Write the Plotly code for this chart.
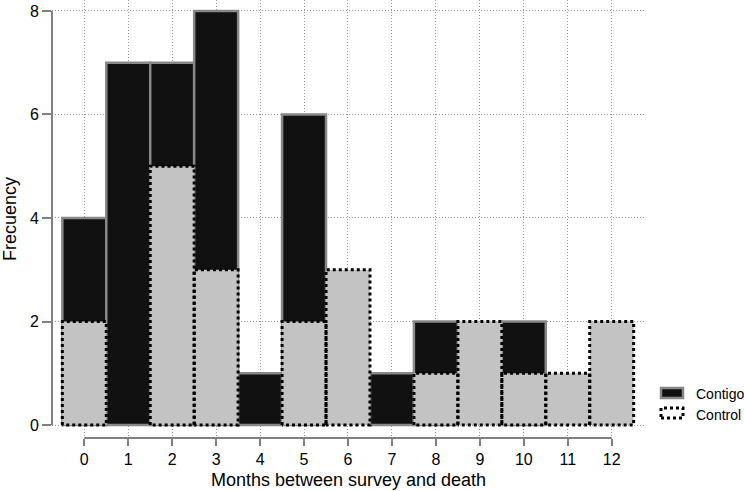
import plotly.graph_objects as go

# Data
months = list(range(13))
contigo = [4, 7, 7, 8, 1, 6, 0, 1, 2, 0, 2, 0, 0]
control = [2, 0, 5, 3, 0, 2, 3, 0, 1, 2, 1, 1, 2]
y_ticks = [0, 2, 4, 6, 8]
x_title = "Months between survey and death"
y_title = "Frecuency"
series_names = ["Contigo", "Control"]

FONT = "Liberation Sans, Arial, sans-serif"
AXIS_GRAY = "#808080"

fig = go.Figure()

# Contigo bars (dark, gray outline)
fig.add_trace(go.Bar(
    x=months, y=[v if v else None for v in contigo], width=1,
    marker=dict(color="#111111", line=dict(color="#888888", width=2.5)),
    name=series_names[0], showlegend=False,
))

# Control bars fill (light gray)
fig.add_trace(go.Bar(
    x=months, y=[v if v else None for v in control], width=1,
    marker=dict(color="#c3c3c3", line=dict(width=0)),
    name=series_names[1], showlegend=False,
))

# Control dotted outlines, derived from the data
ox, oy = [], []
for m, v in zip(months, control):
    if v:
        ox += [m - 0.5, m - 0.5, m + 0.5, m + 0.5, m - 0.5, None]
        oy += [0, v, v, 0, 0, None]
fig.add_trace(go.Scatter(
    x=ox, y=oy, mode="lines",
    line=dict(color="black", width=3, dash="dot"),
    showlegend=False, hoverinfo="skip",
))

L, R, T, B = 52, 99, 0, 53
W, H = 744, 491
pw, ph = W - L - R, H - T - B

def px_x(p):
    return (p - L) / pw

def px_y(p):
    return (H - B - p) / ph

shapes = [
    # y axis line (0..8)
    dict(type="line", xref="paper", yref="y", x0=0, x1=0, y0=y_ticks[0], y1=y_ticks[-1],
         line=dict(color=AXIS_GRAY, width=2)),
    # x axis line (0..12)
    dict(type="line", xref="x", yref="paper", x0=months[0], x1=months[-1], y0=0, y1=0,
         line=dict(color=AXIS_GRAY, width=2)),
    # legend boxes
    dict(type="rect", xref="paper", yref="paper",
         x0=px_x(661), x1=px_x(683), y0=px_y(398), y1=px_y(388),
         fillcolor="#111111", line=dict(color="#888888", width=2.5)),
    dict(type="rect", xref="paper", yref="paper",
         x0=px_x(661), x1=px_x(683), y0=px_y(418), y1=px_y(408),
         fillcolor="white", line=dict(color="black", width=3, dash="dot")),
]

annotations = [
    dict(text=series_names[0], xref="paper", yref="paper", x=px_x(694), y=px_y(394),
         xanchor="left", yanchor="middle", showarrow=False,
         font=dict(family=FONT, size=14, color="black")),
    dict(text=series_names[1], xref="paper", yref="paper", x=px_x(694), y=px_y(415),
         xanchor="left", yanchor="middle", showarrow=False,
         font=dict(family=FONT, size=14, color="black")),
]

fig.update_layout(
    width=W, height=H,
    margin=dict(l=L, r=R, t=T, b=B, pad=0, autoexpand=False),
    barmode="overlay",
    plot_bgcolor="white", paper_bgcolor="white",
    font=dict(family=FONT, size=16, color="black"),
    shapes=shapes, annotations=annotations,
    showlegend=False,
)

fig.update_xaxes(
    range=[-0.735, 12.758], automargin=False,
    tickmode="array", tickvals=months, ticktext=[str(m) for m in months],
    ticks="outside", ticklen=7, tickwidth=2, tickcolor=AXIS_GRAY,
    showgrid=True, gridcolor="#999999", gridwidth=1, griddash="1px,2px",
    zeroline=False, showline=False,
    tickfont=dict(family=FONT, size=16),
    title=dict(text=x_title, font=dict(family=FONT, size=18), standoff=6),
)

fig.update_yaxes(
    range=[-0.251, 8.212], automargin=False,
    tickmode="array", tickvals=y_ticks, ticktext=[str(v) for v in y_ticks],
    ticks="outside", ticklen=9, tickwidth=2, tickcolor=AXIS_GRAY,
    showgrid=True, gridcolor="#999999", gridwidth=1, griddash="1px,2px",
    zeroline=False, showline=False,
    tickfont=dict(family=FONT, size=16),
    title=dict(text=y_title, font=dict(family=FONT, size=18), standoff=10),
)

fig.write_html("out.html")
